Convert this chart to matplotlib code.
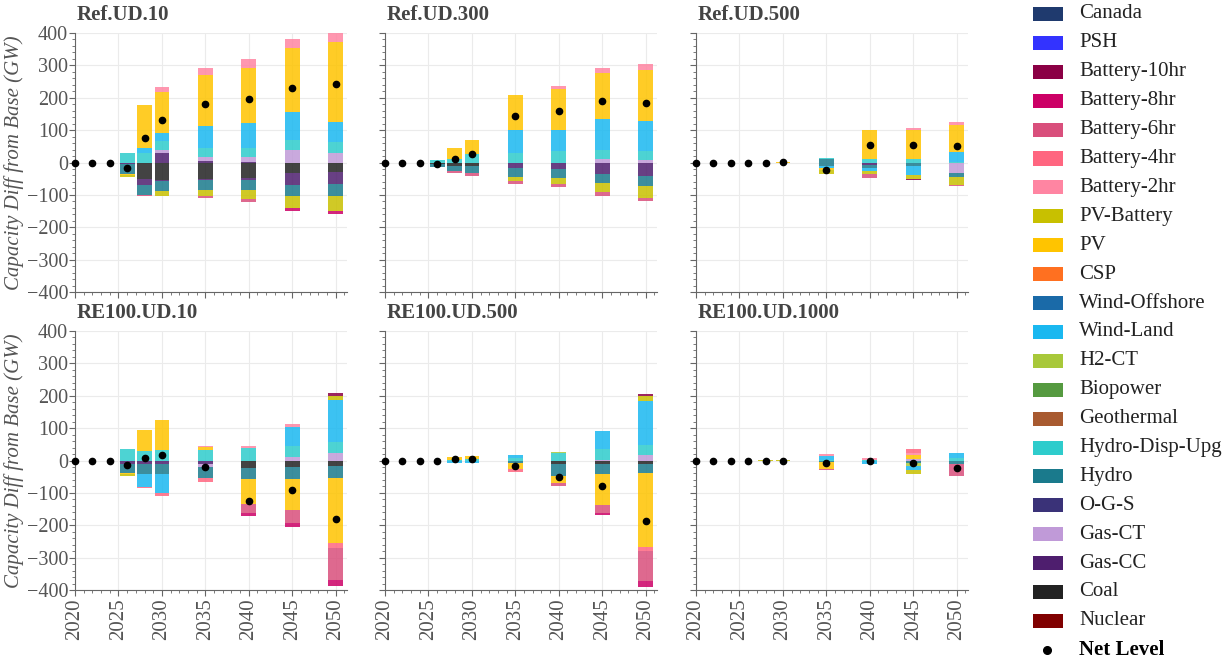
import matplotlib
matplotlib.use("Agg")
import matplotlib.pyplot as plt
from matplotlib.patches import Rectangle
from matplotlib.ticker import MultipleLocator
import numpy as np

# Data: capacity difference from base (GW)
years = [2020, 2022, 2024, 2026, 2028, 2030, 2035, 2040, 2045, 2050]

legend_order = ["Canada", "PSH", "Battery-10hr", "Battery-8hr", "Battery-6hr",
                "Battery-4hr", "Battery-2hr", "PV-Battery", "PV", "CSP",
                "Wind-Offshore", "Wind-Land", "H2-CT", "Biopower", "Geothermal",
                "Hydro-Disp-Upg", "Hydro", "O-G-S", "Gas-CT", "Gas-CC", "Coal", "Nuclear"]
tech_colors = ["#1f3a6e", "#3333ff", "#8b0045", "#cc0066", "#d94f7c",
               "#ff6680", "#ff85a2", "#c8c000", "#ffc400", "#ff7020",
               "#1a6aa8", "#1ab8f0", "#a8c83a", "#559a40", "#a85a30",
               "#2ecccc", "#1a7a8c", "#3a3278", "#c09ad8", "#4e1e6e", "#222222", "#800000"]

ref_ud10_pos = {
    "Gas-CC":         [0, 0, 0, 0, 0, 30, 6, 3, 0, 0],
    "Gas-CT":         [0, 0, 0, 0, 0, 8, 10, 13, 39, 29],
    "Hydro-Disp-Upg": [0, 0, 0, 29, 29, 29, 30, 28, 31, 33],
    "Wind-Land":      [0, 0, 0, 0, 15, 23, 68, 78, 86, 62],
    "PV":             [0, 0, 0, 0, 134, 127, 157, 170, 198, 248],
    "Battery-2hr":    [0, 0, 0, 0, 0, 17, 20, 28, 27, 28],
}
ref_ud10_neg = {
    "Coal":        [0, 0, 0, 0, -52, -53, -52, -48, -33, -28],
    "Gas-CC":      [0, 0, 0, -5, -17, -5, -3, -5, -36, -38],
    "Hydro":       [0, 0, 0, -30, -31, -31, -30, -31, -34, -37],
    "PV":          [0, 0, 0, -3, 0, 0, 0, 0, 0, 0],
    "PV-Battery":  [0, 0, 0, -8, 0, -13, -20, -29, -38, -48],
    "Battery-6hr": [0, 0, 0, 0, -3, -2, -5, -10, 0, 0],
    "Battery-8hr": [0, 0, 0, 0, 0, 0, 0, 0, -10, -7],
}

ref_ud300_pos = {
    "Gas-CT":         [0, 0, 0, 0, 0, 0, 0, 0, 10, 8],
    "Hydro-Disp-Upg": [0, 0, 0, 8, 10, 27, 29, 34, 29, 29],
    "Wind-Land":      [0, 0, 0, 0, 0, 0, 70, 65, 96, 90],
    "PV":             [0, 0, 0, 0, 34, 41, 110, 128, 141, 158],
    "Battery-2hr":    [0, 0, 0, 0, 0, 0, 0, 10, 16, 20],
}
ref_ud300_neg = {
    "Coal":        [0, 0, 0, -6, -12, -10, 0, 0, 0, 0],
    "Gas-CC":      [0, 0, 0, 0, 0, 0, -17, -20, -35, -43],
    "Hydro":       [0, 0, 0, -7, -15, -23, -28, -29, -29, -29],
    "PV-Battery":  [0, 0, 0, 0, 0, 0, -13, -17, -28, -38],
    "Battery-6hr": [0, 0, 0, 0, -5, -10, -7, -11, -10, -10],
}

ref_ud500_pos = {
    "Hydro":          [0, 0, 0, 0, 0, 0, 10, 0, 0, 0],
    "Hydro-Disp-Upg": [0, 0, 0, 0, 0, 0, 3, 10, 10, 3],
    "Wind-Land":      [0, 0, 0, 0, 0, 0, 0, 0, 0, 28],
    "PV":             [0, 0, 0, 0, 0, 3, 0, 91, 91, 85],
    "Battery-2hr":    [0, 0, 0, 0, 0, 0, 0, 0, 7, 9],
}
ref_ud500_neg = {
    "Gas-CC":       [0, 0, 0, 0, 0, 0, 0, -7, 0, 0],
    "Gas-CT":       [0, 0, 0, 0, 0, 0, 0, 0, 0, -33],
    "Hydro":        [0, 0, 0, 0, 0, 0, -12, -10, -12, -12],
    "Wind-Land":    [0, 0, 0, 0, 0, 0, -5, -10, -26, 0],
    "PV":           [0, 0, 0, 0, 0, 0, -5, 0, 0, 0],
    "PV-Battery":   [0, 0, 0, 0, 0, -2, -13, -10, -13, -24],
    "Battery-6hr":  [0, 0, 0, 0, 0, 0, 0, -10, 0, -5],
    "Battery-10hr": [0, 0, 0, 0, 0, 0, 0, 0, -4, 0],
}

re100_ud10_pos = {
    "Gas-CT":         [0, 0, 0, 0, 0, 0, 0, 0, 12, 23],
    "Hydro-Disp-Upg": [0, 0, 0, 35, 28, 31, 31, 40, 34, 34],
    "Wind-Land":      [0, 0, 0, 0, 0, 0, 0, 0, 56, 131],
    "PV":             [0, 0, 0, 0, 65, 95, 10, 0, 0, 0],
    "PV-Battery":     [0, 0, 0, 0, 0, 0, 0, 0, 0, 10],
    "Battery-2hr":    [0, 0, 0, 0, 0, 0, 5, 6, 10, 0],
    "Battery-10hr":   [0, 0, 0, 0, 0, 0, 0, 0, 0, 10],
}
re100_ud10_neg = {
    "Coal":        [0, 0, 0, 0, 0, 0, 0, -22, -19, -17],
    "Gas-CC":      [0, 0, 0, -10, -10, -10, -10, 0, 0, 0],
    "Gas-CT":      [0, 0, 0, 0, 0, 0, -10, 0, 0, 0],
    "Hydro":       [0, 0, 0, -29, -31, -31, -34, -36, -38, -38],
    "Wind-Land":   [0, 0, 0, 0, -41, -58, 0, 0, 0, 0],
    "PV":          [0, 0, 0, -3, 0, 0, 0, -77, -96, -201],
    "PV-Battery":  [0, 0, 0, -7, 0, 0, 0, 0, 0, 0],
    "Battery-4hr": [0, 0, 0, 0, -4, -10, -13, 0, 0, -15],
    "Battery-6hr": [0, 0, 0, 0, 0, 0, 0, -28, -41, -98],
    "Battery-8hr": [0, 0, 0, 0, 0, 0, 0, -8, -10, -20],
}

re100_ud500_pos = {
    "Gas-CT":         [0, 0, 0, 0, 0, 0, 0, 0, 3, 18],
    "Hydro-Disp-Upg": [0, 0, 0, 0, 3, 4, 8, 24, 31, 31],
    "H2-CT":          [0, 0, 0, 0, 0, 0, 0, 3, 0, 0],
    "Wind-Land":      [0, 0, 0, 0, 0, 0, 10, 0, 56, 136],
    "PV":             [0, 0, 0, 0, 9, 9, 0, 0, 0, 0],
    "PV-Battery":     [0, 0, 0, 0, 0, 0, 0, 0, 0, 13],
    "Battery-10hr":   [0, 0, 0, 0, 0, 0, 0, 0, 0, 7],
}
re100_ud500_neg = {
    "Coal":        [0, 0, 0, 0, 0, 0, 0, -12, -12, -12],
    "Hydro":       [0, 0, 0, 0, 0, 0, -9, -36, -29, -28],
    "Wind-Land":   [0, 0, 0, 0, -8, -8, 0, 0, 0, 0],
    "PV":          [0, 0, 0, 0, 0, 0, -18, -21, -96, -226],
    "Battery-4hr": [0, 0, 0, 0, 0, 0, -8, 0, 0, -15],
    "Battery-6hr": [0, 0, 0, 0, 0, 0, 0, -10, -24, -90],
    "Battery-8hr": [0, 0, 0, 0, 0, 0, 0, 0, -8, -21],
}

re100_ud1000_pos = {
    "Gas-CT":         [0, 0, 0, 0, 0, 0, 0, 0, 6, 0],
    "Hydro-Disp-Upg": [0, 0, 0, 0, 0, 0, 3, 3, 0, 8],
    "Wind-Land":      [0, 0, 0, 0, 0, 0, 10, 0, 0, 16],
    "PV":             [0, 0, 0, 0, 0, 0, 0, 0, 12, 0],
    "PV-Battery":     [0, 0, 0, 0, 1, 1, 0, 0, 0, 0],
    "Battery-2hr":    [0, 0, 0, 0, 0, 0, 7, 6, 6, 0],
    "Battery-4hr":    [0, 0, 0, 0, 0, 0, 0, 0, 12, 0],
}
re100_ud1000_neg = {
    "Hydro":       [0, 0, 0, 0, 0, 0, -5, 0, -8, -12],
    "H2-CT":       [0, 0, 0, 0, 0, 0, 0, 0, -8, 0],
    "Wind-Land":   [0, 0, 0, 0, 0, 0, 0, -11, -12, 0],
    "PV":          [0, 0, 0, 0, 0, 0, -20, 0, 0, 0],
    "PV-Battery":  [0, 0, 0, 0, -1, -1, 0, 0, -15, 0],
    "Battery-6hr": [0, 0, 0, 0, 0, 0, -4, 0, 0, -36],
}

panel_titles = ["Ref.UD.10", "Ref.UD.300", "Ref.UD.500",
                "RE100.UD.10", "RE100.UD.500", "RE100.UD.1000"]
panel_data = [(ref_ud10_pos, ref_ud10_neg), (ref_ud300_pos, ref_ud300_neg),
              (ref_ud500_pos, ref_ud500_neg), (re100_ud10_pos, re100_ud10_neg),
              (re100_ud500_pos, re100_ud500_neg), (re100_ud1000_pos, re100_ud1000_neg)]

SERIF = "Liberation Serif"
W, H = 1228, 662
fig = plt.figure(figsize=(W / 100, H / 100), dpi=100)

col_left = [75, 385, 696]
col_width = 272
row_top = [33, 331]
row_height = 259
color_of = dict(zip(legend_order, tech_colors))
stack_order = legend_order[::-1]  # from zero outward

for i, (title, (pos, neg)) in enumerate(zip(panel_titles, panel_data)):
    r, c = divmod(i, 3)
    ax = fig.add_axes([col_left[c] / W, (H - row_top[r] - row_height) / H,
                       col_width / W, row_height / H])
    x = np.array(years, dtype=float)
    bottom_pos = np.zeros(len(years))
    bottom_neg = np.zeros(len(years))
    for tech in stack_order:
        if tech in pos:
            v = np.array(pos[tech], dtype=float)
            ax.bar(x, v, bottom=bottom_pos, width=1.7, color=color_of[tech],
                   alpha=0.85, linewidth=0, zorder=2)
            bottom_pos += v
        if tech in neg:
            v = np.array(neg[tech], dtype=float)
            ax.bar(x, v, bottom=bottom_neg, width=1.7, color=color_of[tech],
                   alpha=0.85, linewidth=0, zorder=2)
            bottom_neg += v
    net = bottom_pos + bottom_neg
    ax.plot(x, net, "o", color="black", markersize=4.5, zorder=4, clip_on=False)

    ax.set_xlim(2020, 2051.3)
    ax.set_ylim(-400, 400)
    ax.xaxis.set_major_locator(MultipleLocator(5))
    ax.xaxis.set_minor_locator(MultipleLocator(1))
    ax.yaxis.set_major_locator(MultipleLocator(100))
    ax.yaxis.set_minor_locator(MultipleLocator(20))
    ax.grid(True, which="major", color="#ebebeb", linewidth=0.8, zorder=0)
    ax.set_axisbelow(True)
    for s in ["top", "right"]:
        ax.spines[s].set_visible(False)
    for s in ["left", "bottom"]:
        ax.spines[s].set_color("#666666")
        ax.spines[s].set_linewidth(0.8)
    ax.tick_params(which="major", length=4, color="#666666", width=0.8)
    ax.tick_params(which="minor", length=2, color="#666666", width=0.6)
    ax.tick_params(axis="both", labelcolor="#555555")

    if c == 0:
        ax.tick_params(axis="y", labelsize=14.5, pad=1)
        for lab in ax.get_yticklabels():
            lab.set_fontfamily(SERIF)
        ax.set_ylabel("Capacity Diff from Base (GW)", fontsize=15, fontstyle="italic",
                      fontfamily=SERIF, color="#555555", labelpad=2)
    else:
        ax.tick_params(axis="y", labelleft=False)

    if r == 1:
        ax.tick_params(axis="x", labelsize=15, labelrotation=90, pad=2)
        for lab in ax.get_xticklabels():
            lab.set_fontfamily(SERIF)
    else:
        ax.tick_params(axis="x", labelbottom=False)

    ax.text(0.005, 1.03, title, transform=ax.transAxes, fontsize=15,
            fontweight="bold", fontfamily=SERIF, color="#444444",
            ha="left", va="bottom")

# Legend drawn along the right edge
step = 28.9
for k, (name, col) in enumerate(zip(legend_order, tech_colors)):
    yc = 14 + step * k
    fig.add_artist(Rectangle((1033 / W, (H - yc - 7) / H), 30 / W, 14 / H,
                             transform=fig.transFigure, facecolor=col,
                             edgecolor="none"))
    fig.text(1079 / W, (H - yc) / H, name, fontsize=15, fontfamily=SERIF,
             color="#222222", va="center", ha="left")
yc = 14 + step * len(legend_order)
fig.add_artist(plt.Line2D([1047 / W], [(H - yc) / H], marker="o", color="black",
                          markersize=5.5, transform=fig.transFigure))
fig.text(1079 / W, (H - yc) / H, "Net Level", fontsize=15, fontfamily=SERIF,
         fontweight="bold", color="black", va="center", ha="left")

fig.savefig("out.png", dpi=100)
